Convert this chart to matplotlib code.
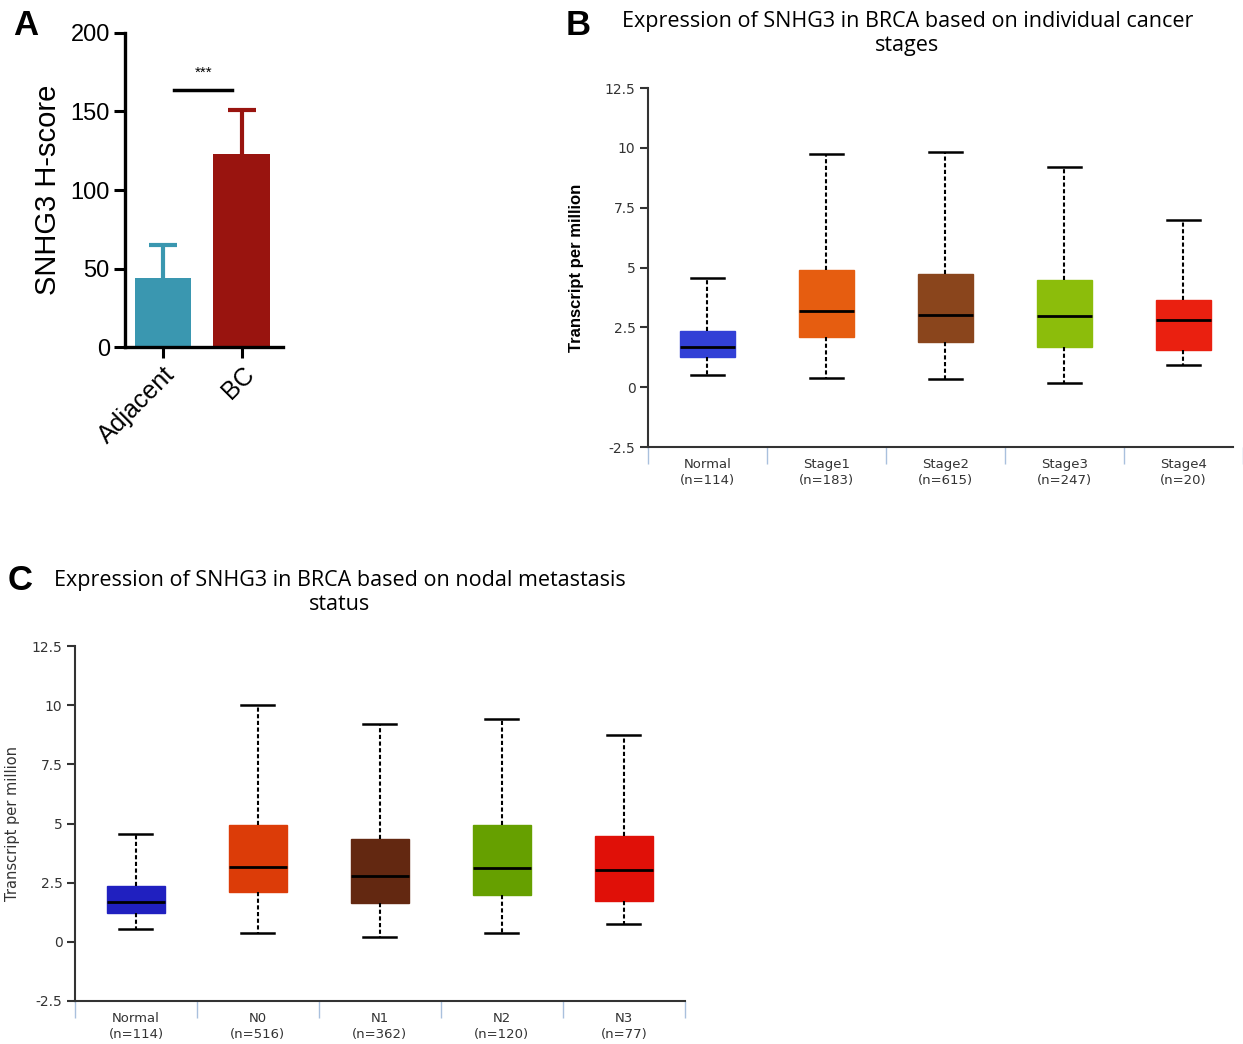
"""Three-panel SNHG3 figure: IHC H-score bars plus two UALCAN-style box plots."""

import matplotlib

matplotlib.use("Agg")

import matplotlib.pyplot as plt

# ---- panel A: H-score bars ----
hscore_groups = ["Adjacent", "BC"]
hscore_mean = [44, 123]
hscore_err = [21, 28]
hscore_colors = ["#3a97b0", "#99140f"]

# ---- panel B: cancer stages ----
stage_names = ["Normal", "Stage1", "Stage2", "Stage3", "Stage4"]
stage_n = [114, 183, 615, 247, 20]
stage_low = [0.53, 0.39, 0.33, 0.18, 0.93]
stage_q1 = [1.25, 2.08, 1.90, 1.69, 1.54]
stage_med = [1.67, 3.17, 3.01, 2.96, 2.82]
stage_q3 = [2.33, 4.89, 4.72, 4.47, 3.64]
stage_high = [4.56, 9.75, 9.81, 9.19, 6.97]
stage_colors = ["#3240d6", "#e65d10", "#8a451c", "#8cbd0b", "#ea2010"]

# ---- panel C: nodal status ----
nodal_names = ["Normal", "N0", "N1", "N2", "N3"]
nodal_n = [114, 516, 362, 120, 77]
nodal_low = [0.55, 0.36, 0.20, 0.36, 0.76]
nodal_q1 = [1.23, 2.09, 1.64, 1.98, 1.72]
nodal_med = [1.70, 3.18, 2.79, 3.14, 3.04]
nodal_q3 = [2.37, 4.92, 4.33, 4.92, 4.47]
nodal_high = [4.54, 10.0, 9.20, 9.41, 8.75]
nodal_colors = ["#2020c0", "#dc3c08", "#632811", "#66a000", "#e01008"]

y_ticks = [12.5, 10, 7.5, 5, 2.5, 0, -2.5]
y_tick_labels = ["12.5", "10", "7.5", "5", "2.5", "0", "-2.5"]

TICK_FONT = "DejaVu Sans"


def draw_boxes(ax, names, counts, low, q1, med, q3, high, colors, xmax):
    stats = [
        {"whislo": lo, "q1": a, "med": m, "q3": b, "whishi": hi, "fliers": []}
        for lo, a, m, b, hi in zip(low, q1, med, q3, high)
    ]
    positions = list(range(len(names)))
    art = ax.bxp(
        stats,
        positions=positions,
        widths=0.47,
        capwidths=0.27,
        patch_artist=True,
        showfliers=False,
        whiskerprops=dict(color="black", linewidth=1.5, linestyle=(0, (2.0, 1.2))),
        capprops=dict(color="black", linewidth=1.8),
        medianprops=dict(color="black", linewidth=2.0),
        boxprops=dict(linewidth=1.0),
        manage_ticks=False,
    )
    for box, color in zip(art["boxes"], colors):
        box.set_facecolor(color)
        box.set_edgecolor(color)

    ax.set_xlim(-0.5, xmax)
    ax.set_ylim(-2.5, 12.5)
    ax.set_xticks(positions)
    ax.set_xticklabels(
        [f"{name}\n(n={n})" for name, n in zip(names, counts)],
        family=TICK_FONT,
        fontsize=9.5,
        color="#333333",
        linespacing=1.3,
    )
    ax.set_xticks([p + 0.5 for p in [-1] + positions], minor=True)
    ax.tick_params(axis="x", which="major", length=0, pad=8)
    ax.tick_params(axis="x", which="minor", length=12, width=1.0, color="#a9c0dd", direction="out")
    ax.set_yticks(y_ticks)
    ax.set_yticklabels(y_tick_labels, family=TICK_FONT, fontsize=10, color="#333333")
    ax.tick_params(axis="y", length=6, width=1.5, color="#333333", pad=3)
    for side in ("top", "right"):
        ax.spines[side].set_visible(False)
    for side in ("left", "bottom"):
        ax.spines[side].set_linewidth(1.5)
        ax.spines[side].set_color("#333333")
    ax.spines["bottom"].set_bounds(-0.5, xmax)


def main() -> None:
    fig = plt.figure(figsize=(12.43, 10.44), dpi=100)

    # ---- A ----
    ax_a = fig.add_axes([0.1006, 0.6676, 0.127, 0.3008])
    xs = range(len(hscore_groups))
    ax_a.bar(xs, hscore_mean, width=0.72, color=hscore_colors, zorder=2)
    for x, m, e, c in zip(xs, hscore_mean, hscore_err, hscore_colors):
        _, caps, _ = ax_a.errorbar(x, m, yerr=[[0], [e]], fmt="none", ecolor=c,
                                   elinewidth=3, capsize=10, capthick=3, zorder=1)
        caps[0].set_visible(False)
    ax_a.plot([0.14, 0.87], [163.5, 163.5], color="black", linewidth=2.5)
    ax_a.text(0.51, 170, "***", ha="center", va="bottom", fontsize=11,
              family="Liberation Sans")
    ax_a.set_xlim(-0.48, 1.52)
    ax_a.set_ylim(0, 200)
    ax_a.set_yticks([0, 50, 100, 150, 200])
    ax_a.set_xticks(list(xs))
    ax_a.set_xticklabels(hscore_groups, rotation=45, ha="right",
                         rotation_mode="anchor", fontsize=18, family="Liberation Sans")
    for lab in ax_a.get_yticklabels():
        lab.set_fontsize(17)
        lab.set_family("Liberation Sans")
    ax_a.tick_params(length=8, width=2.2, pad=3)
    ax_a.set_ylabel("SNHG3 H-score", fontsize=21, family="Liberation Sans", labelpad=6)
    for side in ("top", "right"):
        ax_a.spines[side].set_visible(False)
    for side in ("left", "bottom"):
        ax_a.spines[side].set_linewidth(2.4)
    fig.text(0.0105, 0.976, "A", fontsize=25, fontweight="bold",
             family="Liberation Sans", va="center")

    # ---- B ----
    ax_b = fig.add_axes([0.5213, 0.5718, 0.4787, 0.3439])
    draw_boxes(ax_b, stage_names, stage_n, stage_low, stage_q1, stage_med,
               stage_q3, stage_high, stage_colors, 4.42)
    ax_b.set_ylabel("Transcript per million", fontsize=12, fontweight="bold",
                    family="Liberation Sans")
    ax_b.yaxis.set_label_coords(-0.108, 0.5)
    fig.text(0.730, 0.968, "Expression of SNHG3 in BRCA based on individual cancer\nstages",
             ha="center", va="center", fontsize=15.5, family="Open Sans", linespacing=1.15)
    fig.text(0.455, 0.976, "B", fontsize=25, fontweight="bold",
             family="Liberation Sans", va="center")

    # ---- C ----
    ax_c = fig.add_axes([0.0603, 0.0412, 0.4907, 0.34])
    draw_boxes(ax_c, nodal_names, nodal_n, nodal_low, nodal_q1, nodal_med,
               nodal_q3, nodal_high, nodal_colors, 4.5)
    ax_c.set_ylabel("Transcript per million", fontsize=10.5, family="DejaVu Sans",
                    color="#333333")
    ax_c.yaxis.set_label_coords(-0.09, 0.5)
    fig.text(0.2735, 0.4325, "Expression of SNHG3 in BRCA based on nodal metastasis\nstatus",
             ha="center", va="center", fontsize=15.5, family="Open Sans", linespacing=1.15)
    fig.text(0.006, 0.444, "C", fontsize=25, fontweight="bold",
             family="Liberation Sans", va="center")

    fig.savefig("out.png", dpi=100)
    plt.close(fig)


if __name__ == "__main__":
    main()
